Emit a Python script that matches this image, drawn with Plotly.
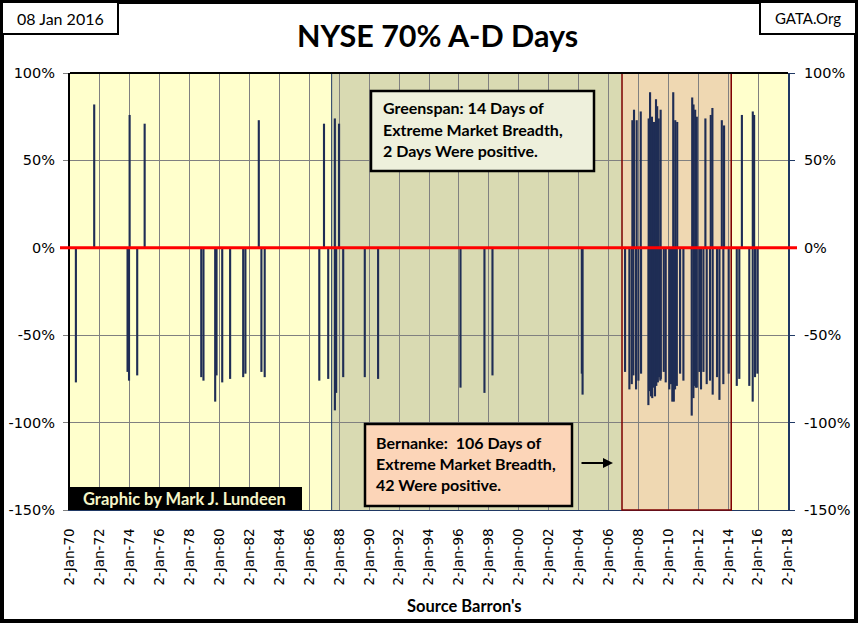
import plotly.graph_objects as go

# NYSE days with 70%+ advance/decline breadth
days = [
    "1970-05-26", "1971-08-16", "1973-11-07", "1973-12-13", "1973-12-28",
    "1974-07-01", "1974-12-30", "1978-10-12", "1978-12-05", "1979-09-17",
    "1979-10-20", "1980-03-07", "1980-09-16", "1981-08-01", "1981-09-24",
    "1982-08-17", "1982-10-20", "1983-01-08", "1986-09-02", "1986-12-26",
    "1987-04-08",
    # Greenspan
    "1987-09-17", "1987-09-18", "1987-10-19", "1987-12-29", "1988-04-08",
    "1989-09-17", "1990-08-08", "1996-02-10", "1997-09-17", "1998-04-01",
    "2004-03-22", "2004-04-09",
    # Bernanke and after
    "2007-02-10", "2007-05-27", "2007-07-24", "2007-08-08", "2007-09-02",
    "2007-09-17", "2007-11-06", "2007-11-21", "2008-01-02", "2008-02-28",
    "2008-03-07", "2008-09-02", "2008-09-09", "2008-10-05", "2008-10-13",
    "2008-11-06", "2008-11-28", "2008-12-05", "2009-01-12", "2009-01-15",
    "2009-02-10", "2009-03-07", "2009-03-14", "2009-04-05", "2009-04-21",
    "2009-05-12", "2009-05-19", "2009-06-21", "2009-06-28", "2009-07-02",
    "2009-09-13", "2009-10-30", "2010-01-26", "2010-03-10", "2010-04-09",
    "2010-05-16", "2010-05-02", "2010-06-20", "2010-06-15", "2010-08-07",
    "2010-07-28", "2010-10-16", "2011-01-05", "2011-07-27", "2011-08-08",
    "2011-09-06", "2011-09-09", "2011-10-01", "2011-10-19", "2011-11-03",
    "2011-11-28", "2011-11-29", "2012-01-30", "2012-03-10", "2012-05-08",
    "2012-06-25", "2012-07-27", "2012-10-16", "2012-11-03", "2012-12-13",
    "2012-12-20", "2013-04-05", "2013-06-03", "2013-07-31", "2013-09-06",
    "2013-09-24", "2014-01-15", "2014-07-31", "2014-10-01", "2014-12-03",
    "2015-06-02", "2015-08-24", "2015-08-26", "2015-09-28", "2015-10-19",
    "2015-12-16",
]
breadth = [
    -77, 82, -71, -76, 76,
    -73, 71, -74, -76, -88,
    -73, -77, -75, -74, -72,
    73, -71, -74, -76, 71,
    -75,
    74, -93, -83, 71, -74,
    -74, -75, -80, -83, -73,
    -72, -84,
    -71, -81, -78, 73, -73,
    79, -81, 73, -76, 78,
    -72, -90, 74, -82, 89,
    -85, 75, -86, -80, 72,
    -85, 85, -79, 81, -77,
    74, -74, -76, 79, -75,
    -71, -77, -81, -78, -88,
    -88, 89, 73, -81, 72,
    -79, -72, -76, -96, 86,
    -86, 82, -79, 79, -80,
    75, -80, -71, -81, -71,
    74, -78, -76, 76, 80,
    -84, -74, -87, 73, -78,
    70, -72, -79, -75, 76,
    -79, -88, 78, 76, -74,
    -72,
]

tick_dates = ["%d-01-02" % y for y in range(1970, 2019, 2)]
tick_text = ["2-Jan-%02d" % (y % 100) for y in range(1970, 2019, 2)]
pct_vals = [-150, -100, -50, 0, 50, 100]
pct_text = ["%d%%" % v for v in pct_vals]

greenspan = ["1987-07-01", "2006-11-28"]
bernanke = ["2006-11-28", "2014-03-18"]

W, H = 858, 623
L, R, T, B = 70, 70, 73, 113
PW, PH = W - L - R, H - T - B


def px(x):
    return (x - L) / PW


def py(y):
    return (H - B - y) / PH


fig = go.Figure()

fig.add_trace(go.Bar(
    x=days, y=breadth,
    width=52 * 86400000,
    marker=dict(color='#1F2D55', line=dict(width=0)),
    hoverinfo='x+y',
))
# invisible trace so the right-hand axis gets drawn
fig.add_trace(go.Scatter(
    x=days[:1], y=[0], yaxis='y2', mode='markers',
    marker=dict(opacity=0), hoverinfo='skip',
))

shapes = [
    # Greenspan / Bernanke shading
    dict(type='rect', xref='x', yref='paper', x0=greenspan[0], x1=greenspan[1],
         y0=0, y1=1, fillcolor='#D9DAB2', line=dict(width=0), layer='below'),
    dict(type='rect', xref='x', yref='paper', x0=bernanke[0], x1=bernanke[1],
         y0=0, y1=1, fillcolor='#EFD8B2', line=dict(width=0), layer='below'),
    dict(type='line', xref='x', yref='paper', x0=greenspan[0], x1=greenspan[0],
         y0=0, y1=1, line=dict(color='#1F3864', width=1), layer='above'),
    dict(type='rect', xref='x', yref='paper', x0=bernanke[0], x1=bernanke[1],
         y0=0, y1=1, line=dict(color='#7F0000', width=1.5), layer='above'),
    # zero line
    dict(type='line', xref='paper', yref='y', x0=px(60), x1=px(797), y0=0, y1=0,
         line=dict(color='#FF0000', width=3), layer='above'),
    # plot top border
    dict(type='line', xref='paper', yref='paper', x0=0, x1=1, y0=1, y1=1,
         line=dict(color='black', width=2), layer='above'),
    # outer frame
    dict(type='rect', xref='paper', yref='paper', x0=px(2), x1=px(856),
         y0=py(621), y1=py(2), line=dict(color='black', width=4)),
    # header boxes
    dict(type='rect', xref='paper', yref='paper', x0=px(2), x1=px(118),
         y0=py(34), y1=py(2), fillcolor='white', line=dict(color='black', width=2)),
    dict(type='rect', xref='paper', yref='paper', x0=px(760), x1=px(856),
         y0=py(34), y1=py(2), fillcolor='white', line=dict(color='black', width=2)),
    # credit box
    dict(type='rect', xref='paper', yref='paper', x0=px(70), x1=px(302),
         y0=py(510), y1=py(487), fillcolor='black', line=dict(width=0)),
    # note boxes
    dict(type='rect', xref='paper', yref='paper', x0=px(371), x1=px(594),
         y0=py(171), y1=py(91), fillcolor='#EEF0DC', line=dict(color='black', width=2.5)),
    dict(type='rect', xref='paper', yref='paper', x0=px(365), x1=px(572),
         y0=py(506), y1=py(424), fillcolor='#FCD5B8', line=dict(color='black', width=2.5)),
]

label_font = dict(family='Lato', size=16, color='black')
notes = [
    ("<b>Greenspan: 14 Days of</b>", 381, 108),
    ("<b>Extreme Market Breadth,</b>", 381, 129),
    ("<b>2 Days Were positive.</b>", 381, 150),
    ("<b>Bernanke:  106 Days of</b>", 374, 442),
    ("<b>Extreme Market Breadth,</b>", 374, 463),
    ("<b>42 Were positive.</b>", 374, 484),
]
annotations = []
for txt, x, y in notes:
    annotations.append(dict(text=txt, xref='paper', yref='paper', x=px(x), y=py(y),
                            xanchor='left', yanchor='middle', showarrow=False,
                            font=label_font))


def centred(text, x, y, size=15, color='black'):
    return dict(text=text, xref='paper', yref='paper', x=px(x), y=py(y),
                xanchor='center', yanchor='middle', showarrow=False,
                font=dict(family='Lato', size=size, color=color))


annotations += [
    centred('<b>NYSE 70% A-D Days</b>', 437, 35, size=30.5),
    centred('08 Jan 2016', 60, 18, size=16),
    centred('GATA.Org', 808, 18, size=15),
    centred('<b>Graphic by Mark J. Lundeen</b>', 184, 499, size=16.5, color='#F5F5C8'),
    centred("<b>Source Barron's</b>", 464, 606, size=16.5),
    # arrow to the Bernanke years
    dict(text='', xref='paper', yref='paper', x=px(613), y=py(463),
         ax=-33, ay=0, showarrow=True, arrowhead=2, arrowsize=1,
         arrowwidth=2, arrowcolor='black'),
]

axis_font = dict(family='DejaVu Sans', size=14.5, color='black')

fig.update_layout(
    width=W, height=H,
    margin=dict(l=L, r=R, t=T, b=B, autoexpand=False),
    paper_bgcolor='white',
    plot_bgcolor='#FFFFCC',
    showlegend=False,
    shapes=shapes,
    annotations=annotations,
    xaxis=dict(
        type='date', automargin=False,
        range=['1970-01-02', '2018-01-02'],
        tickmode='array', tickvals=tick_dates, ticktext=tick_text,
        tickangle=-90, tickfont=dict(family='DejaVu Sans', size=13.5, color='black'),
        ticklabelstandoff=12,
        showgrid=True, gridcolor='#808080', gridwidth=1,
        showline=True, linecolor='#1F3864', linewidth=1,
        ticks='',
    ),
    yaxis=dict(
        range=[-150, 100], automargin=False,
        tickmode='array', tickvals=pct_vals, ticktext=pct_text,
        tickfont=axis_font, ticklabelstandoff=5,
        ticks='outside', ticklen=5, tickcolor='#808080',
        showgrid=True, gridcolor='#808080', gridwidth=1,
        zeroline=False,
        showline=True, linecolor='black', linewidth=2,
    ),
    yaxis2=dict(
        range=[-150, 100], overlaying='y', side='right', automargin=False,
        tickmode='array', tickvals=pct_vals, ticktext=pct_text,
        tickfont=axis_font, ticklabelstandoff=6,
        ticks='outside', ticklen=5, tickcolor='#1F3864',
        showgrid=False, zeroline=False,
        showline=True, linecolor='#1F3864', linewidth=2,
    ),
)

fig.write_html("out.html", config={'displayModeBar': False},
               post_script="document.body.style.margin='0';")
